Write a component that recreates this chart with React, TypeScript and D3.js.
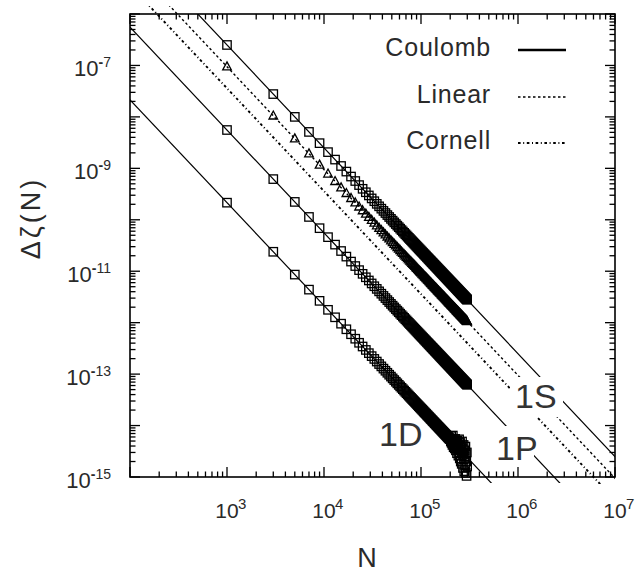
import React from 'react';
import * as d3 from 'd3';

const W = 635;
const H = 574;

// axis domains and labels
const xDomain = [1e2, 1e7];
const yDomain = [1e-6, 1e-15];
const xLabelExps = [3, 4, 5, 6, 7];
const yLabelExps = [-7, -9, -11, -13, -15];

// power-law fits  Δζ(N) = A / N^2  (amplitudes)
const fitSlope = -2;
const coulombStates = ['1S', '1P', '1D'];
const coulombAmp = [0.25, 5.56e-3, 2.15e-4];
const linearAmp = [0.0945];
const cornellAmp = [0.036];

// sampled N values (1000, 3000, ..., 299000)
const sampleN = d3.range(1000, 300000, 2000);

// 1D points at the end of the run (N = 201000 ... 299000), in units of 1e-15
const tail1DStart = 201000;
const tail1D = [
  5.6, 4.9, 6.2, 4.6, 5.3, 4.2, 6.4, 4.4, 3.8, 5.2,
  4.7, 3.6, 5.5, 4.1, 3.3, 4.8, 3.9, 2.9, 5.1, 3.5,
  4.3, 2.6, 3.8, 5.4, 3.0, 2.3, 4.6, 3.4, 2.0, 4.0,
  3.1, 1.8, 4.9, 2.7, 3.6, 1.5, 2.9, 4.2, 2.2, 1.3,
  3.3, 2.5, 1.7, 3.9, 1.2, 2.8, 2.0, 1.05, 3.0, 1.6,
];

const legendItems = ['Coulomb', 'Linear', 'Cornell'];

const FONT = '"Liberation Sans", Arial, sans-serif';
const TXT = '#2a2a2a';

const L = 130, R = 615, T = 14, B = 477;

export default function App() {
  const x = d3.scaleLog().domain(xDomain).range([L, R]);
  const y = d3.scaleLog().domain(yDomain).range([T, B]);

  const law = (a: number) => (n: number) => a * Math.pow(n, fitSlope);
  const lineGen = d3
    .line<[number, number]>()
    .x((d) => x(d[0]))
    .y((d) => y(d[1]));
  const fitLine = (a: number) => lineGen([30, 5e7].map((n) => [n, law(a)(n)] as [number, number]));

  const pts1S = sampleN.map((n) => [n, law(coulombAmp[0])(n)]);
  const pts1SLin = sampleN.map((n) => [n, law(linearAmp[0])(n)]);
  const pts1P = sampleN.map((n) => [n, law(coulombAmp[1])(n)]);
  const pts1D = sampleN.map((n) =>
    n >= tail1DStart ? [n, tail1D[(n - tail1DStart) / 2000] * 1e-15] : [n, law(coulombAmp[2])(n)]
  );

  const sq = 8.4;
  const square = (d: number[], i: number) => (
    <rect key={i} x={x(d[0]) - sq / 2} y={y(d[1]) - sq / 2} width={sq} height={sq}
      fill="none" stroke="#000" strokeWidth={1.3} />
  );
  const triangle = (d: number[], i: number) => {
    const cx = x(d[0]);
    const cy = y(d[1]);
    const h = 8;
    const w = 8.6;
    return (
      <path key={i} d={`M${cx},${cy - h * 0.6}L${cx + w / 2},${cy + h * 0.4}L${cx - w / 2},${cy + h * 0.4}Z`}
        fill="none" stroke="#000" strokeWidth={1.3} />
    );
  };

  // ticks
  const xTicks: { v: number; major: boolean }[] = [];
  for (let e = 2; e <= 6; e++) for (let k = 1; k <= 9; k++) xTicks.push({ v: k * 10 ** e, major: k === 1 });
  xTicks.push({ v: 1e7, major: true });
  const yTicks: { v: number; major: boolean }[] = [];
  for (let e = -15; e <= -7; e++) for (let k = 1; k <= 9; k++) yTicks.push({ v: k * 10 ** e, major: k === 1 });
  yTicks.push({ v: 1e-6, major: true });
  const tl = (m: boolean) => (m ? 10 : 5.5);

  const coulombStyle = { stroke: '#000', strokeWidth: 1.2 };
  const linearStyle = { stroke: '#000', strokeWidth: 1.4, strokeDasharray: '2.5,2.5' };
  const cornellStyle = { stroke: '#000', strokeWidth: 1.9, strokeDasharray: '2.6,2.6,1,2.6' };
  const legendStyles = [{ ...coulombStyle, strokeWidth: 2.6 }, linearStyle, cornellStyle];
  const legendTextY = [56, 102.5, 149];
  const legendLineY = [50, 97, 143];

  return (
    <svg width={W} height={H} style={{ position: 'absolute', left: 0, top: 0, background: '#fff' }}
      fontFamily={FONT}>
      <defs>
        <clipPath id="clipSolid">
          <rect x={L} y={T} width={R - L} height={483 - T} />
        </clipPath>
        <clipPath id="clipDash">
          <rect x={L} y={6} width={R - L} height={484 - 6} />
        </clipPath>
      </defs>

      <g clipPath="url(#clipSolid)" fill="none">
        {coulombAmp.map((a, i) => (
          <path key={'c' + i} d={fitLine(a) || ''} {...coulombStyle} />
        ))}
      </g>
      <g clipPath="url(#clipDash)" fill="none">
        {linearAmp.map((a, i) => (
          <path key={'l' + i} d={fitLine(a) || ''} {...linearStyle} />
        ))}
        {cornellAmp.map((a, i) => (
          <path key={'k' + i} d={fitLine(a) || ''} {...cornellStyle} />
        ))}
      </g>

      <g>
        {pts1S.map(square)}
        {pts1SLin.map(triangle)}
        {pts1P.map(square)}
        {pts1D.map(square)}
      </g>

      {/* state labels with knockout boxes */}
      <rect x={510} y={377} width={53} height={40} fill="#fff" />
      <rect x={494} y={426} width={40} height={38} fill="#fff" />
      <g fontSize={34} fill="#333">
        <text x={515} y={408}>{coulombStates[0]}</text>
        <text x={496} y={460}>{coulombStates[1]}</text>
        <text x={379} y={446}>{coulombStates[2]}</text>
      </g>

      {/* frame & ticks */}
      <g stroke="#000" strokeWidth={1.3}>
        {xTicks.map((t, i) => (
          <g key={'xt' + i}>
            <line x1={x(t.v)} x2={x(t.v)} y1={B} y2={B - tl(t.major)} />
            <line x1={x(t.v)} x2={x(t.v)} y1={T} y2={T + tl(t.major)} />
          </g>
        ))}
        {yTicks.map((t, i) => (
          <g key={'yt' + i}>
            <line x1={L} x2={L + tl(t.major)} y1={y(t.v)} y2={y(t.v)} />
            <line x1={R} x2={R - tl(t.major)} y1={y(t.v)} y2={y(t.v)} />
          </g>
        ))}
        <rect x={L} y={T} width={R - L} height={B - T} fill="none" strokeWidth={1.6} />
      </g>

      {/* tick labels */}
      <g fill={TXT}>
        {xLabelExps.map((e) => (
          <g key={'xl' + e}>
            <text x={x(10 ** e)} y={518} fontSize={21} textAnchor="middle">10</text>
            <text x={x(10 ** e) + 11} y={509} fontSize={15}>{e}</text>
          </g>
        ))}
        {yLabelExps.map((e) => (
          <text key={'yl' + e} x={111} y={y(10 ** e) + 10.5} fontSize={22} textAnchor="end">
            10
            <tspan dy={-8.5} fontSize={14}>
              <tspan fontWeight="bold">-</tspan>
              {Math.abs(e)}
            </tspan>
          </text>
        ))}
      </g>

      {/* axis titles */}
      <text x={367} y={567} fontSize={27} textAnchor="middle" fill={TXT}>N</text>
      <text transform="translate(40,218) rotate(-90)" fontSize={27} textAnchor="middle" fill={TXT}
        letterSpacing={3}>
        Δζ(N)
      </text>

      {/* legend */}
      <g>
        {legendItems.map((name, i) => (
          <g key={name}>
            <text x={491} y={legendTextY[i]} fontSize={25} textAnchor="end" fill={TXT} letterSpacing={0.8}>
              {name}
            </text>
            <line x1={518} x2={566} y1={legendLineY[i]} y2={legendLineY[i]} {...legendStyles[i]} />
          </g>
        ))}
      </g>
    </svg>
  );
}
